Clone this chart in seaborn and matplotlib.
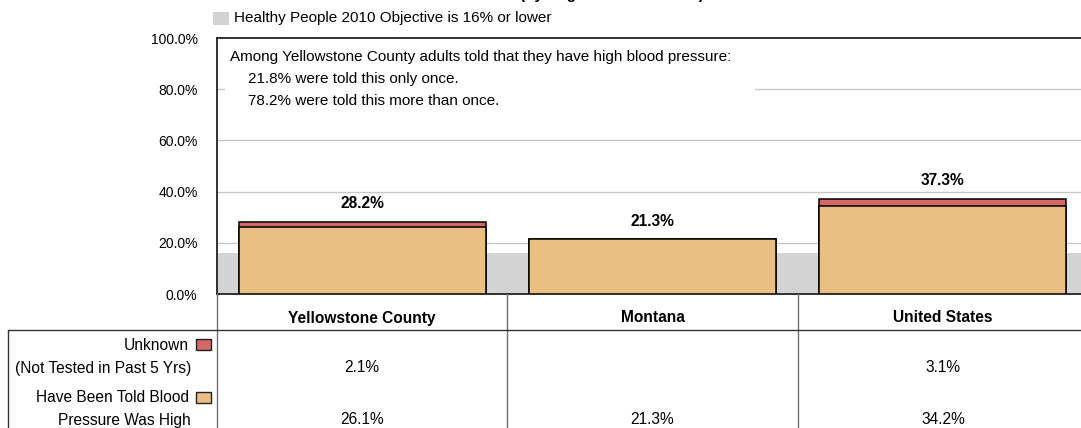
import matplotlib
matplotlib.use("Agg")
import matplotlib.pyplot as plt
import matplotlib.transforms as mtransforms
from matplotlib.lines import Line2D
from matplotlib.patches import Rectangle
import numpy as np
import seaborn as sns

# ---- data -------------------------------------------------------------
categories = ["Yellowstone County", "Montana", "United States"]
told_high = [26.1, 21.3, 34.2]          # Have Been Told Blood Pressure Was High
unknown = [2.1, None, 3.1]              # Unknown (Not Tested in Past 5 Yrs)
objective = 16.0                         # Healthy People 2010 objective
yticks = [0, 20, 40, 60, 80, 100]
note_lines = [
    "Among Yellowstone County adults told that they have high blood pressure:",
    "21.8% were told this only once.",
    "78.2% were told this more than once.",
]

totals = [t + (u or 0.0) for t, u in zip(told_high, unknown)]

TAN = "#E9BF84"
RED = "#D46768"
BAND = "#D3D3D3"
GRID = "#C8C8C8"
INK = "black"

sns.set_style("white")
plt.rcParams["font.family"] = ["Liberation Sans", "DejaVu Sans"]
plt.rcParams["text.color"] = INK
plt.rcParams["ytick.color"] = INK
plt.rcParams["ytick.labelcolor"] = INK

W, H = 1081, 428
fig = plt.figure(figsize=(W / 100, H / 100), dpi=100)


def fx(px):
    return px / W


def fy(py):
    return 1 - py / H


# plot area in pixels: left 217, right 1088, top 38, bottom 294
ax = fig.add_axes([fx(217), fy(294), (1088 - 217) / W, (294 - 38) / H])

# stacked bars: full total in red, "told high" portion in tan drawn over it
sns.barplot(x=categories, y=totals, color=RED, saturation=1, width=0.85,
            edgecolor="black", linewidth=1.1, ax=ax, zorder=3)
sns.barplot(x=categories, y=told_high, color=TAN, saturation=1, width=0.85,
            edgecolor="black", linewidth=1.1, ax=ax, zorder=4)

ax.set_xlim(-0.5, len(categories) - 0.5)
ax.set_ylim(0, 100)
ax.set_yticks(yticks)
ax.set_yticklabels([f"{v:.1f}%" for v in yticks], fontsize=10, color=INK)
ax.tick_params(axis="y", length=0, pad=14)
ax.set_xticks([])
ax.set_xlabel("")
ax.set_ylabel("")

for v in yticks[1:-1]:
    ax.axhline(v, color=GRID, lw=1, zorder=0.5)
ax.axhspan(0, objective, color=BAND, lw=0, zorder=0.6)

for side in ["left", "top", "bottom"]:
    ax.spines[side].set_color("#222222")
    ax.spines[side].set_linewidth(1.3)
ax.spines["right"].set_visible(False)

# total labels above the bars
for i, tot in enumerate(totals):
    ax.annotate(f"{tot:.1f}%", (i, tot), xytext=(0, 18), textcoords="offset pixels",
                ha="center", va="center", fontsize=11.2, fontweight="bold", zorder=6)

# note block with white backing
ax.add_patch(Rectangle((fx(225), fy(118)), fx(755) - fx(225), fy(44) - fy(118),
                       transform=fig.transFigure, facecolor="white", edgecolor="none",
                       zorder=1))
fig.text(fx(230), fy(57), note_lines[0], fontsize=11, va="center", ha="left")
fig.text(fx(248), fy(79), note_lines[1], fontsize=11, va="center", ha="left")
fig.text(fx(248), fy(101), note_lines[2], fontsize=11, va="center", ha="left")

# objective legend above the plot
fig.patches.append(Rectangle((fx(213), fy(25)), fx(229) - fx(213), fy(12) - fy(25),
                             transform=fig.transFigure, facecolor=BAND, edgecolor="none"))
fig.text(fx(234), fy(18), f"Healthy People 2010 Objective is {objective:.0f}% or lower",
         fontsize=11, va="center", ha="left")

# title line running off the top edge
fig.text(fx(612), fy(-0.8), "(by Region of Residence)", fontsize=11, fontweight="bold",
         ha="center", va="baseline")

# ---- data table beneath the plot --------------------------------------
col = mtransforms.blended_transform_factory(ax.transData, fig.transFigure)
for b in np.arange(-0.5, len(categories), 1.0):
    fig.add_artist(Line2D([b, b], [fy(294), fy(440)], transform=col,
                          color="#6E6E6E", lw=1))
fig.add_artist(Line2D([fx(8), fx(1090)], [fy(330), fy(330)], transform=fig.transFigure,
                      color="#333333", lw=1))
fig.add_artist(Line2D([fx(8), fx(8)], [fy(330), fy(440)], transform=fig.transFigure,
                      color="#333333", lw=1))

for i, name in enumerate(categories):
    fig.text(i, fy(318), name, transform=col, ha="center", va="center",
             fontsize=11.2, fontweight="bold")
    u = unknown[i]
    fig.text(i, fy(368), "" if u is None else f"{u:.1f}%", transform=col,
             ha="center", va="center", fontsize=11.2)
    fig.text(i, fy(420), f"{told_high[i]:.1f}%", transform=col,
             ha="center", va="center", fontsize=11.2)

row_labels = [("Unknown", "(Not Tested in Past 5 Yrs)", RED, 345, 368),
              ("Have Been Told Blood", "Pressure Was High", TAN, 398, 420)]
for top, bottom, color, y1, y2 in row_labels:
    fig.text(fx(189), fy(y1), top, ha="right", va="center", fontsize=11.2)
    fig.text(fx(191), fy(y2), bottom, ha="right", va="center", fontsize=11.2)
    fig.patches.append(Rectangle((fx(196), fy(y1 + 5)), fx(211) - fx(196), fy(y1 - 6) - fy(y1 + 5),
                                 transform=fig.transFigure, facecolor=color,
                                 edgecolor="#222222", lw=1))

fig.savefig("out.png", dpi=100)
